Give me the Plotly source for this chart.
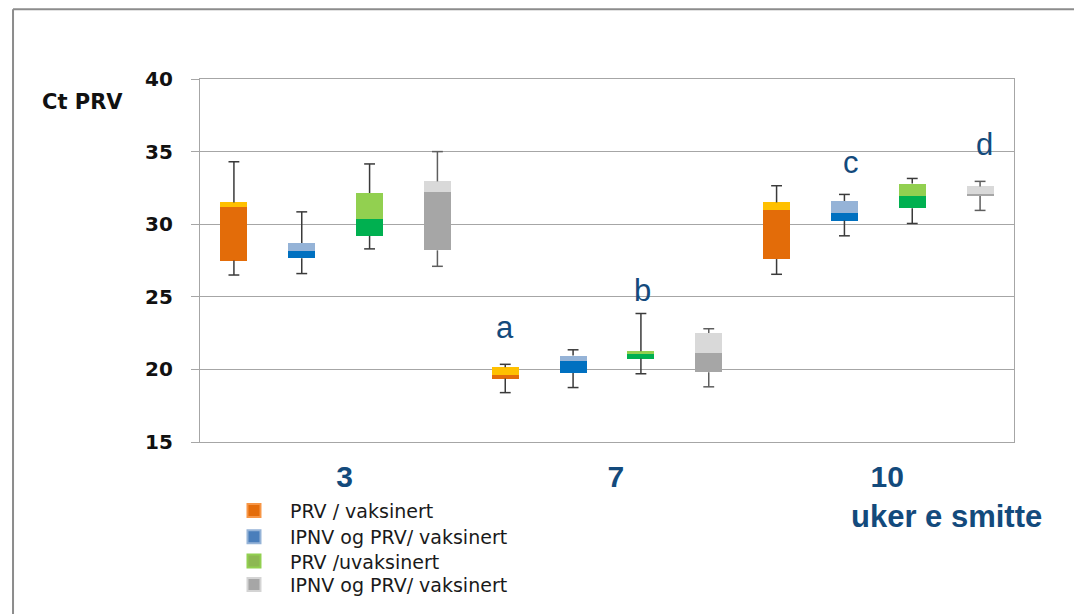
import plotly.graph_objects as go

# ---------------- data ----------------
weeks = ["3", "7", "10"]
series = ["PRV / vaksinert", "IPNV og PRV/ vaksinert", "PRV /uvaksinert", "IPNV og PRV/ vaksinert"]
axis_title = "Ct PRV"
x_title = "uker e smitte"

# box statistics, ordered week by week, four series each
whisker_low = [26.5, 26.6, 28.3, 27.1, 18.4, 18.75, 19.7, 18.8, 26.55, 29.2, 30.05, 30.95]
q1 = [27.5, 27.65, 29.2, 28.2, 19.37, 19.75, 20.75, 19.8, 27.6, 30.25, 31.1, 31.95]
median = [31.2, 28.15, 30.35, 32.25, 19.6, 20.6, 21.05, 21.15, 30.95, 30.8, 31.95, 32.05]
q3 = [31.5, 28.7, 32.15, 32.95, 20.15, 20.95, 21.25, 22.5, 31.5, 31.6, 32.8, 32.6]
whisker_high = [34.3, 30.85, 34.15, 35.0, 20.35, 21.35, 23.85, 22.8, 32.65, 32.05, 33.15, 32.95]

letters = ["a", "b", "c", "d"]
letter_x = [4.0, 6.03, 9.09, 11.06]
letter_y = [22.9, 25.4, 34.25, 35.5]

# ---------------- style ----------------
dark = ["#E36C09", "#0070C0", "#00B050", "#A6A6A6"]
light = ["#FFC000", "#95B3D7", "#92D050", "#D9D9D9"]
legend_fill = ["#E46C0A", "#4A7EBB", "#8DB852", "#A6A6A6"]
legend_line = ["#F79646", "#95B3D7", "#92D050", "#D4D4D4"]
whisker_col = ["#3A3A3A", "#3A3A3A", "#3A3A3A", "#5E5E5E"]
navy = "#134A7C"
grid = "#A6A6A6"
legend_rows_y = [-0.186, -0.2582, -0.3249, -0.389]

n_s = len(series)
pos = [w * n_s + s for w in range(len(weeks)) for s in range(n_s)]
ser = [s for w in range(len(weeks)) for s in range(n_s)]
bw = 0.4
cap = 0.08

fig = go.Figure()

for s in range(n_s):
    idx = [i for i in range(len(pos)) if ser[i] == s]
    xs = [pos[i] for i in idx]
    fig.add_trace(go.Bar(
        x=xs, y=[median[i] - q1[i] for i in idx], base=[q1[i] for i in idx],
        width=bw, marker=dict(color=dark[s], line=dict(width=0)),
        showlegend=False, hoverinfo="skip"))
    fig.add_trace(go.Bar(
        x=xs, y=[q3[i] - median[i] for i in idx], base=[median[i] for i in idx],
        width=bw, marker=dict(color=light[s], line=dict(width=0)),
        showlegend=False, hoverinfo="skip"))
    wx, wy = [], []
    for i in idx:
        p = pos[i]
        wx += [p, p, None, p - cap, p + cap, None, p, p, None, p - cap, p + cap, None]
        wy += [q3[i], whisker_high[i], None, whisker_high[i], whisker_high[i], None,
               q1[i], whisker_low[i], None, whisker_low[i], whisker_low[i], None]
    fig.add_trace(go.Scatter(x=wx, y=wy, mode="lines",
                             line=dict(color=whisker_col[s], width=1.5),
                             showlegend=False, hoverinfo="skip"))

legend_names = ["legend", "legend2", "legend3", "legend4"]
for s in range(n_s):
    fig.add_trace(go.Scatter(
        x=[None], y=[None], mode="markers", name=series[s], legend=legend_names[s],
        showlegend=True,
        marker=dict(symbol="square", size=13, color=legend_fill[s],
                    line=dict(color=legend_line[s], width=2))))

for k, t in enumerate(letters):
    fig.add_annotation(x=letter_x[k], y=letter_y[k], text=t, showarrow=False,
                       xref="x", yref="y",
                       font=dict(family="Liberation Sans", size=31, color=navy))

fig.add_annotation(x=-0.1966, y=0.9376, xref="paper", yref="paper", text="<b>%s</b>" % axis_title,
                   showarrow=False, xanchor="left", yanchor="middle",
                   font=dict(family="DejaVu Sans", size=21, color="#111111"))
fig.add_annotation(x=0.9173, y=-0.205, xref="paper", yref="paper", text="<b>%s</b>" % x_title,
                   showarrow=False, xanchor="center", yanchor="middle",
                   font=dict(family="Liberation Sans", size=31, color=navy))

# outer slide frame
fig.add_shape(type="line", xref="paper", yref="paper", x0=-0.2297, x1=1.09, y0=1.1923, y1=1.1923,
              line=dict(color="#8C8C8C", width=2))
fig.add_shape(type="line", xref="paper", yref="paper", x0=-0.2297, x1=-0.2297, y0=1.1923, y1=-0.48,
              line=dict(color="#8C8C8C", width=2))

group_centers = [w * n_s + (n_s - 1) / 2 + 0.13 for w in range(len(weeks))]

leg_common = dict(x=0.0221, xanchor="left", yanchor="middle",
                  font=dict(family="DejaVu Sans", size=19, color="#1A1A1A"),
                  itemwidth=62, bgcolor="rgba(0,0,0,0)")

fig.update_layout(
    width=1074, height=606,
    margin=dict(l=192, r=68, t=71, b=171),
    paper_bgcolor="white", plot_bgcolor="white",
    barmode="overlay", bargap=0,
    showlegend=True,
    legend=dict(y=legend_rows_y[0], **leg_common),
    legend2=dict(y=legend_rows_y[1], **leg_common),
    legend3=dict(y=legend_rows_y[2], **leg_common),
    legend4=dict(y=legend_rows_y[3], **leg_common),
    xaxis=dict(range=[-0.5, len(pos) - 0.5], showgrid=False, zeroline=False,
               showline=True, mirror=True, linecolor=grid, linewidth=1.3,
               tickvals=group_centers, ticktext=["<b>%s</b>" % w for w in weeks],
               ticks="", ticklabelstandoff=8,
               tickfont=dict(family="Liberation Sans", size=30, color=navy)),
    yaxis=dict(range=[15, 40], dtick=5, showgrid=True, gridcolor=grid, gridwidth=1.3,
               zeroline=False, showline=True, mirror=True, linecolor=grid, linewidth=1.3,
               ticks="outside", ticklen=8, tickcolor=grid, ticklabelstandoff=14,
               tickfont=dict(family="DejaVu Sans", size=20, color="#111111", weight="bold")),
)

fig.write_html("out.html")
